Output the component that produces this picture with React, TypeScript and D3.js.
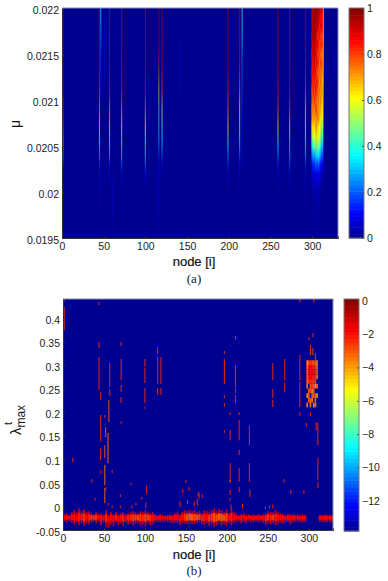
import React, { useEffect, useRef } from "react";
import * as d3 from "d3";

// panel (a): value along each node stripe, sampled at muLevels (bottom to top)
const muLevels = [0.0195, 0.02, 0.0202, 0.0203, 0.0204, 0.0205, 0.0206, 0.0207, 0.0209, 0.0211, 0.0214, 0.0217, 0.022];
const stripeNodes = [1, 45, 46.5, 57, 71.5, 100, 116, 120, 199, 213, 216, 259, 273, 292, 313.5, 51, 61, 142, 326, 115];
const stripeValues = [
  [0, 0, 0.05, 0.2, 0.4, 0.5, 0.6, 0.7, 0.8, 0.88, 0.95, 0.95, 0.95],
  [0, 0.04, 0.08, 0.15, 0.28, 0.38, 0.5, 0.62, 0.7, 0.82, 0.92, 0.95, 0.92],
  [0, 0, 0, 0, 0, 0, 0, 0, 0, 0.1, 0.14, 0.25, 0.38],
  [0, 0.02, 0.06, 0.14, 0.28, 0.36, 0.45, 0.58, 0.72, 0.86, 0.95, 0.95, 0.95],
  [0, 0.02, 0.08, 0.2, 0.32, 0.42, 0.52, 0.6, 0.72, 0.85, 0.92, 0.95, 0.95],
  [0, 0.02, 0.1, 0.22, 0.33, 0.42, 0.5, 0.6, 0.75, 0.88, 0.95, 0.95, 0.95],
  [0, 0.03, 0.05, 0.1, 0.18, 0.28, 0.34, 0.4, 0.45, 0.6, 0.85, 0.95, 0.95],
  [0, 0, 0.03, 0.1, 0.2, 0.3, 0.36, 0.42, 0.55, 0.8, 0.92, 0.95, 0.95],
  [0, 0.02, 0.07, 0.16, 0.26, 0.38, 0.5, 0.62, 0.75, 0.85, 0.95, 0.95, 0.95],
  [0, 0.02, 0.05, 0.1, 0.2, 0.32, 0.4, 0.5, 0.62, 0.75, 0.88, 0.95, 0.95],
  [0, 0, 0, 0.03, 0.06, 0.08, 0.1, 0.12, 0.14, 0.18, 0.22, 0.34, 0.44],
  [0, 0.02, 0.06, 0.14, 0.26, 0.36, 0.48, 0.62, 0.78, 0.88, 0.95, 0.95, 0.95],
  [0, 0.02, 0.08, 0.2, 0.28, 0.32, 0.42, 0.58, 0.8, 0.92, 0.95, 0.95, 0.95],
  [0, 0.03, 0.08, 0.15, 0.3, 0.4, 0.5, 0.58, 0.65, 0.8, 0.92, 0.95, 0.95],
  [0, 0, 0.05, 0.1, 0.15, 0.2, 0.25, 0.3, 0.32, 0.38, 0.5, 0.58, 0.65],
  [0, 0, 0, 0, 0, 0, 0, 0, 0, 0, 0.06, 0.08, 0.02],
  [0, 0.08, 0.02, 0, 0, 0, 0, 0, 0, 0, 0, 0, 0],
  [0, 0, 0, 0, 0, 0, 0, 0, 0, 0.03, 0.07, 0.02, 0],
  [0, 0, 0, 0, 0, 0, 0, 0, 0, 0.03, 0.08, 0.02, 0],
  [0, 0.07, 0.05, 0, 0, 0, 0, 0, 0, 0, 0, 0, 0],
];
// the hot block near node 305 has more texture, so it gets a finer mu grid
const hotLevels = [
  0.0195, 0.02, 0.0202, 0.0203, 0.0204, 0.0205, 0.0206, 0.0207, 0.0208, 0.0209, 0.021,
  0.0211, 0.0212, 0.0213, 0.0214, 0.0215, 0.0216, 0.0217, 0.0218, 0.0219, 0.022,
];
const hotNodes = [300, 301.5, 303, 304.5, 306, 307.5, 309, 310.5, 312];
const hotValues = [
  [0, 0, 0.05, 0.12, 0.22, 0.36, 0.5, 0.62, 0.72, 0.7, 0.8, 0.76, 0.86, 0.82, 0.9, 0.84, 0.93, 0.88, 0.96, 0.9, 0.94],
  [0, 0.02, 0.08, 0.16, 0.28, 0.42, 0.58, 0.66, 0.7, 0.78, 0.74, 0.86, 0.8, 0.9, 0.84, 0.96, 0.9, 1, 0.92, 0.98, 0.94],
  [0, 0.02, 0.07, 0.14, 0.26, 0.46, 0.56, 0.62, 0.74, 0.72, 0.84, 0.78, 0.88, 0.84, 0.94, 0.88, 0.98, 0.92, 1, 0.94, 0.98],
  [0, 0.03, 0.1, 0.2, 0.32, 0.5, 0.6, 0.7, 0.68, 0.8, 0.76, 0.84, 0.8, 0.86, 0.82, 0.92, 0.86, 0.96, 0.9, 1, 0.96],
  [0, 0.02, 0.08, 0.18, 0.34, 0.48, 0.62, 0.66, 0.72, 0.76, 0.72, 0.8, 0.84, 0.78, 0.86, 0.82, 0.88, 0.84, 0.94, 0.9, 1],
  [0, 0.03, 0.1, 0.2, 0.34, 0.5, 0.58, 0.64, 0.74, 0.7, 0.78, 0.74, 0.8, 0.76, 0.84, 0.8, 0.86, 0.82, 0.9, 0.96, 0.94],
  [0, 0.02, 0.09, 0.16, 0.3, 0.44, 0.56, 0.6, 0.68, 0.72, 0.7, 0.76, 0.72, 0.78, 0.74, 0.82, 0.78, 0.86, 0.84, 0.9, 0.96],
  [0, 0, 0.06, 0.13, 0.26, 0.4, 0.5, 0.58, 0.62, 0.68, 0.72, 0.7, 0.76, 0.74, 0.8, 0.76, 0.82, 0.8, 0.88, 0.86, 0.92],
  [0, 0, 0.04, 0.1, 0.2, 0.3, 0.42, 0.5, 0.58, 0.62, 0.66, 0.7, 0.68, 0.72, 0.76, 0.72, 0.8, 0.78, 0.84, 0.82, 0.88],
];
const xTicks = [0, 50, 100, 150, 200, 250, 300];
const muTicks = [0.0195, 0.02, 0.0205, 0.021, 0.0215, 0.022];
const barTicksA = [0, 0.2, 0.4, 0.6, 0.8, 1];

// panel (b): [node, lambda low, lambda high, value]
const lambdaSegments: number[][] = [
  [1.5, 0.374, 0.423, -2.4], [1.5, 0.435, 0.44, -2.4], [44, 0.427, 0.434, -2.4], [44, 0.336, 0.349, -2.4], [44, 0.247, 0.317, -2.4],
  [46, 0.226, 0.243, -2.4], [57, 0.253, 0.304, -2.4], [57, 0.235, 0.248, -2.4], [71, 0.34, 0.349, -2.4], [71, 0.268, 0.313, -2.4],
  [71, 0.243, 0.258, -2.4], [71, 0.219, 0.232, -2.4], [71, 0.175, 0.181, -2.4], [100, 0.296, 0.313, -2.4], [100, 0.262, 0.294, -2.4],
  [100, 0.219, 0.251, -2.4], [100, 0.207, 0.211, -2.4], [115.5, 0.323, 0.338, -2.4], [115.5, 0.26, 0.317, -2.4], [115.5, 0.236, 0.251, -2.4],
  [119.5, 0.26, 0.317, -2.4], [119.5, 0.236, 0.251, -2.4], [46, 0.137, 0.194, -2.4], [51, 0.188, 0.194, -2.4], [52, 0.147, 0.168, -3],
  [56, 0.179, 0.226, -3], [55, 0.092, 0.156, -3.4], [51, 0.103, 0.13, -3], [51, 0.045, 0.088, -3.4], [46, 0.098, 0.124, -2.4],
  [46, 0.069, 0.077, -2.4], [60, 0.071, 0.077, -2.4], [12, 0.094, 0.103, -2.4], [35, 0.05, 0.058, -2.4], [83, 0.045, 0.05, -2.4],
  [52, 0.035, 0.041, -2.4], [51, 0.007, 0.039, -3.2], [39, 0.012, 0.018, -2.4], [55, 0.002, 0.008, -2.4], [70, 0.02, 0.026, -2.4],
  [102, 0.026, 0.045, -2.4], [96, 0.014, 0.02, -2.4], [101, -0.004, 0.008, -2.4], [70, -0.004, 0.002, -2.4], [60, -0.004, 0.002, -2.4],
  [89, 0.002, 0.008, -2.4], [84, -0.004, 0.002, -2.4], [150, 0.05, 0.056, -2.4], [154, 0.033, 0.041, -2.4], [146, 0.028, 0.037, -2.4],
  [152, 0.005, 0.014, -2.4], [143, -0.002, 0.012, -2.4], [165, 0.022, 0.03, -2.4], [160, 0, 0.01, -2.4], [166, 0.016, 0.03, -2.4],
  [170, 0.018, 0.026, -2.4], [164, 0.002, 0.016, -2.4], [204, 0.05, 0.056, -2.4], [204, 0.024, 0.035, -2.4], [204, 0.012, 0.018, -2.4],
  [228, 0.02, 0.035, -2.4], [278, 0.026, 0.035, -2.4], [294, 0.026, 0.035, -2.4], [205, -0.006, 0.004, -2.4], [219, -0.004, 0.006, -2.4],
  [247, -0.006, 0, -2.4], [252, -0.004, 0.002, -2.4], [256, -0.004, 0.004, -2.4], [197, 0.323, 0.33, -2.4], [197, 0.26, 0.313, -2.4],
  [197, 0.23, 0.236, -2.4], [197, 0.211, 0.219, -2.4], [197, 0.156, 0.162, -2.4], [204, 0.194, 0.2, -2.4], [204, 0.14, 0.162, -2.4],
  [204, 0.052, 0.092, -2.4], [210.5, 0.353, 0.361, -2.4], [210.5, 0.253, 0.3, -2.4], [210.5, 0.24, 0.251, -2.4], [210.5, 0.219, 0.236, -2.4],
  [215, 0.194, 0.2, -2.4], [215, 0.14, 0.183, -2.4], [215, 0.109, 0.12, -2.4], [215, 0.052, 0.081, -2.4], [215, 0.03, 0.041, -2.4],
  [227.5, 0.13, 0.171, -2.4], [227.5, 0.052, 0.092, -2.4], [256, 0.268, 0.304, -2.4], [256, 0.23, 0.249, -2.4], [256, 0.211, 0.226, -2.4],
  [270.6, 0.268, 0.313, -2.4], [270.6, 0.243, 0.262, -2.4], [269.5, 0.05, 0.058, -2.4], [289, 0.268, 0.321, -2.4], [289, 0.211, 0.264, -2.4],
  [289, 0.192, 0.2, -2.4], [289, 0.432, 0.44, -2.4], [306, 0.432, 0.44, -2.4], [297, 0.168, 0.177, -2.4], [302, 0.192, 0.2, -2.4],
  [309, 0.162, 0.179, -2.4], [311, 0.13, 0.177, -2.4], [311, 0.056, 0.103, -2.4], [311, 0.039, 0.052, -2.4], [305, 0.359, 0.368, -2.4],
  [300, 0.353, 0.359, -2.4], [302, 0.321, 0.342, -2.8], [305, 0.321, 0.336, -2.8], [308, 0.31, 0.325, -2.8],
];
const hotCellNodes = [298, 300, 302, 304, 306, 308, 310];
const hotCellLambdas = [0.215, 0.225, 0.235, 0.245, 0.255, 0.265, 0.275, 0.285, 0.295, 0.305];
const hotCellValues: (number | null)[][] = [
  [-3.5, null, -3.2, null, -3.4, -3.4, null],
  [null, -3.2, -3, -3.4, null, -3.2, null],
  [-3.6, -3, null, -2.8, -3.2, -3, -3.8],
  [null, -3.2, -2.8, -3.8, -2.8, null, null],
  [-3.4, null, -3, -2.6, -3, -3.6, -3.6],
  [-3.2, -2.6, -2.4, -2.6, -2.4, -2.8, null],
  [-3, -2.2, -2, -2, -2.2, -2.4, -3.4],
  [-3, -2, -1.9, -1.9, -2, -2.2, -3],
  [-3.2, -2.2, -2, -2, -2.2, -2.6, -3.2],
  [-3.6, -3, -2.6, -2.8, -3, -3, -3.6],
];

// low-lambda band, one entry every 3 nodes
const bandTop = [
  -0.016, -0.014, -0.018, -0.012, -0.008, -0.012, -0.004, -0.01, -0.006, -0.012,
  -0.01, -0.013, -0.016, -0.012, -0.015, -0.014, -0.017, -0.008, -0.018, -0.012,
  -0.016, -0.012, -0.017, -0.014, -0.012, -0.016, -0.014, -0.012, -0.01, -0.012,
  -0.014, -0.01, -0.012, -0.008, -0.012, -0.014, -0.012, -0.016, -0.018, -0.016,
  -0.018, -0.019, -0.018, -0.017, -0.018, -0.014, -0.012, -0.016, -0.012, -0.008,
  -0.01, -0.006, -0.01, -0.008, -0.012, -0.01, -0.014, -0.008, -0.01, -0.012,
  -0.008, -0.004, -0.01, -0.006, -0.008, -0.012, -0.006, -0.014, -0.004, -0.012,
  -0.016, -0.018, -0.016, -0.014, -0.018, -0.016, -0.018, -0.017, -0.018, -0.016,
  -0.018, -0.016, -0.014, -0.01, -0.012, -0.012, -0.008, -0.012, -0.014, -0.016,
  -0.018, -0.016, -0.017, -0.016, -0.018, -0.016, -0.018, -0.017, -0.018, -0.02,
  -0.02, -0.02, -0.02, -0.02, -0.018, -0.018, -0.017, -0.018, -0.017, -0.018,
];
const bandBottom = [
  -0.032, -0.034, -0.031, -0.035, -0.038, -0.034, -0.04, -0.036, -0.041, -0.036,
  -0.038, -0.034, -0.032, -0.036, -0.032, -0.04, -0.034, -0.044, -0.046, -0.038,
  -0.042, -0.034, -0.04, -0.036, -0.042, -0.034, -0.038, -0.036, -0.04, -0.037,
  -0.036, -0.04, -0.038, -0.042, -0.036, -0.04, -0.038, -0.034, -0.033, -0.034,
  -0.032, -0.032, -0.033, -0.034, -0.036, -0.034, -0.035, -0.04, -0.036, -0.037,
  -0.038, -0.036, -0.037, -0.038, -0.036, -0.034, -0.038, -0.04, -0.036, -0.042,
  -0.038, -0.044, -0.04, -0.036, -0.04, -0.038, -0.042, -0.036, -0.04, -0.036,
  -0.034, -0.032, -0.036, -0.033, -0.034, -0.032, -0.033, -0.034, -0.032, -0.034,
  -0.032, -0.036, -0.04, -0.036, -0.038, -0.036, -0.04, -0.036, -0.034, -0.036,
  -0.034, -0.033, -0.038, -0.034, -0.033, -0.032, -0.034, -0.033, -0.032, -0.03,
  -0.03, -0.03, -0.03, -0.03, -0.033, -0.033, -0.034, -0.033, -0.034, -0.033,
];
const bandPeak = [
  -1.6, -1.8, -1.7, -1.9, -1.9, -1.7, -2.1, -2.1, -2.4, -1.9,
  -2.1, -2.4, -2.6, -2.4, -1.9, -1.8, -1.7, -2.1, -1.6, -1.9,
  -1.8, -2.1, -1.7, -1.8, -2.1, -1.9, -2.1, -2.4, -2.4, -2.6,
  -2.6, -2.6, -2.4, -2.6, -2.6, -2.4, -1.9, -1.8, -1.7, -1.7,
  -1.6, -1.6, -1.6, -1.7, -1.6, -1.8, -1.8, -1.7, -1.9, -2.4,
  -2.8, -3, -3, -2.8, -2.8, -2.6, -2.1, -2.1, -1.9, -2.4,
  -2.4, -2.8, -2.8, -3, -3, -2.8, -2.6, -1.9, -2.1, -1.8,
  -1.7, -1.7, -1.8, -1.7, -1.8, -1.8, -1.9, -1.8, -1.9, -1.8,
  -1.8, -1.9, -2.1, -2.4, -2.1, -2.4, -2.1, -1.9, -1.9, -1.8,
  -1.7, -1.8, -1.7, -1.8, -1.7, -1.6, -1.7, -1.8, -1.6, -9,
  -9, -9, -9, -9, -1.9, -1.8, -1.9, -1.8, -1.9, -1.8,
];
const lambdaTicks = [-0.05, 0, 0.05, 0.1, 0.15, 0.2, 0.25, 0.3, 0.35, 0.4];
const barTicksB = [-12, -10, -8, -6, -4, -2, 0];

const jet = d3
  .scaleLinear<string>()
  .domain([0, 0.11, 0.36, 0.61, 0.86, 1])
  .range(["#00008f", "#0000ff", "#00ffff", "#ffff00", "#ff0000", "#800000"])
  .clamp(true);

const SANS = "'Liberation Sans', Arial, sans-serif";

const App = () => {
  const svgRef = useRef<SVGSVGElement | null>(null);

  useEffect(() => {
    const svg = d3.select(svgRef.current);
    svg.selectAll("*").remove();
    const defs = svg.append("defs");

    const addBlur = (id: string, dev: string) => {
      defs.append("filter")
        .attr("id", id)
        .attr("x", "-5%").attr("y", "-5%").attr("width", "110%").attr("height", "110%")
        .append("feGaussianBlur")
        .attr("stdDeviation", dev);
    };
    addBlur("soft", "0.5 0.4");
    addBlur("softBand", "0.75 0.7");

    const drawFrame = (
      g: any,
      x: any,
      y: any,
      yTicks: number[],
      box: { left: number; right: number; top: number; bottom: number },
      yFormat: (d: any) => string
    ) => {
      const xAxis = g
        .append("g")
        .attr("transform", `translate(0,${box.bottom})`)
        .call(d3.axisBottom(x).tickValues(xTicks).tickSize(-2).tickPadding(5).tickFormat(d3.format("d") as any));
      const yAxis = g
        .append("g")
        .attr("transform", `translate(${box.left},0)`)
        .call(d3.axisLeft(y).tickValues(yTicks).tickSize(-2).tickPadding(3).tickFormat(yFormat as any));
      [xAxis, yAxis].forEach((a) => {
        a.selectAll("text").style("font-family", SANS).style("font-size", "10.5px").attr("fill", "#222");
        a.selectAll("line").attr("stroke", "#333");
        a.select(".domain").attr("stroke", "#333").attr("stroke-width", 1);
      });
      yAxis.selectAll("text").attr("dy", "0.5em");
      g.append("line")
        .attr("x1", box.left).attr("x2", box.right)
        .attr("y1", box.top).attr("y2", box.top)
        .attr("stroke", "#8a8fa8");
      g.append("line")
        .attr("x1", box.right).attr("x2", box.right)
        .attr("y1", box.top).attr("y2", box.bottom)
        .attr("stroke", "#8a8fa8");
    };

    const drawColorbar = (
      g: any,
      box: { left: number; right: number; top: number; bottom: number },
      domain: [number, number],
      ticks: number[],
      color: (v: number) => string
    ) => {
      const scale = d3.scaleLinear().domain(domain).range([box.bottom, box.top]);
      const levels = d3.range(64);
      const band = d3.scaleBand<number>().domain(levels).range([box.bottom, box.top]);
      g.selectAll(".level")
        .data(levels)
        .enter()
        .append("rect")
        .attr("x", box.left)
        .attr("y", (d: number) => band(d))
        .attr("width", box.right - box.left)
        .attr("height", band.bandwidth() + 0.5)
        .attr("fill", (d: number) => color(domain[0] + ((domain[1] - domain[0]) * (d + 0.5)) / 64));
      g.append("rect")
        .attr("x", box.left).attr("y", box.top)
        .attr("width", box.right - box.left).attr("height", box.bottom - box.top)
        .attr("fill", "none").attr("stroke", "#777");
      const axis = g
        .append("g")
        .attr("transform", `translate(${box.right},0)`)
        .call(d3.axisRight(scale).tickValues(ticks).tickSize(-2).tickPadding(3).tickFormat(d3.format("") as any));
      axis.select(".domain").remove();
      axis.selectAll("line").attr("stroke", "#555");
      axis.selectAll("text").style("font-family", SANS).style("font-size", "10.5px").attr("fill", "#222");
    };

    const addLabels = (g: any, caption: string, nodeY: number, captionY: number) => {
      g.append("text")
        .attr("x", 194).attr("y", nodeY)
        .attr("text-anchor", "middle")
        .style("font-family", SANS).style("font-size", "13px")
        .attr("fill", "#111").attr("stroke", "#111").attr("stroke-width", 0.2)
        .text("node [i]");
      g.append("text")
        .attr("x", 194).attr("y", captionY)
        .attr("text-anchor", "middle")
        .style("font-family", "'Liberation Serif', serif").style("font-size", "13px")
        .attr("fill", "#222")
        .text(caption);
    };

    // panel (a)
    const boxA = { left: 62, right: 338, top: 8, bottom: 238 };
    const xA = d3.scaleLinear().domain([0, 331]).range([boxA.left, boxA.right]);
    const yA = d3.scaleLinear().domain([0.0195, 0.022]).range([boxA.bottom, boxA.top]);
    const topG = svg.append("g");
    defs.append("clipPath").attr("id", "clipA").append("rect")
      .attr("x", boxA.left).attr("y", boxA.top)
      .attr("width", boxA.right - boxA.left).attr("height", boxA.bottom - boxA.top);
    topG.append("rect")
      .attr("x", boxA.left).attr("y", boxA.top)
      .attr("width", boxA.right - boxA.left).attr("height", boxA.bottom - boxA.top)
      .attr("fill", jet(0));

    const columns = [
      ...stripeNodes.map((node, i) => ({ node, values: stripeValues[i], levels: muLevels, wide: 1.4, alpha: 0.62 })),
      ...hotNodes.map((node, i) => ({ node, values: hotValues[i], levels: hotLevels, wide: 1.9, alpha: 1 })),
    ];
    columns.forEach((c, i) => {
      const grad = defs.append("linearGradient")
        .attr("id", `col${i}`)
        .attr("gradientUnits", "userSpaceOnUse")
        .attr("x1", 0).attr("x2", 0)
        .attr("y1", boxA.bottom).attr("y2", boxA.top);
      c.levels.forEach((m, k) => {
        grad.append("stop")
          .attr("offset", (m - 0.0195) / (0.022 - 0.0195))
          .attr("stop-color", jet(c.values[k]));
      });
    });
    topG.append("g")
      .attr("clip-path", "url(#clipA)")
      .append("g")
      .attr("filter", "url(#soft)")
      .selectAll("rect")
      .data(columns)
      .enter()
      .append("rect")
      .attr("x", (d) => xA(d.node - d.wide / 2))
      .attr("y", boxA.top - 4)
      .attr("width", (d) => xA(d.wide) - xA(0))
      .attr("height", boxA.bottom - boxA.top + 4)
      .attr("fill", (_, i) => `url(#col${i})`)
      .attr("fill-opacity", (d) => d.alpha);

    drawFrame(topG, xA, yA, muTicks, boxA, (d) => String(d));
    drawColorbar(topG, { left: 349, right: 364, top: 8, bottom: 238 }, [0, 1], barTicksA, (v) => jet(v));
    addLabels(topG, "(a)", 266, 283);
    topG.append("text")
      .attr("transform", "translate(20,124) rotate(-90)")
      .attr("text-anchor", "middle")
      .style("font-family", SANS).style("font-size", "14px")
      .attr("fill", "#111")
      .text("μ");

    // panel (b)
    const boxB = { left: 63, right: 333, top: 299, bottom: 530 };
    const xB = d3.scaleLinear().domain([0, 329.5]).range([boxB.left, boxB.right]);
    const yB = d3.scaleLinear().domain([-0.05, 0.44]).range([boxB.bottom, boxB.top]);
    const colorB = (v: number) => jet((v + 13.8) / 13.9);
    const botG = svg.append("g");
    defs.append("clipPath").attr("id", "clipB").append("rect")
      .attr("x", boxB.left).attr("y", boxB.top)
      .attr("width", boxB.right - boxB.left).attr("height", boxB.bottom - boxB.top);
    botG.append("rect")
      .attr("x", boxB.left).attr("y", boxB.top)
      .attr("width", boxB.right - boxB.left).attr("height", boxB.bottom - boxB.top)
      .attr("fill", jet(0));
    const clipped = botG.append("g").attr("clip-path", "url(#clipB)");
    const marks = clipped.append("g").attr("filter", "url(#soft)");

    marks.selectAll(".seg")
      .data(lambdaSegments)
      .enter()
      .append("rect")
      .attr("x", (d) => xB(d[0] - 0.7))
      .attr("y", (d) => yB(d[2]))
      .attr("width", xB(1.4) - xB(0))
      .attr("height", (d) => yB(d[1]) - yB(d[2]))
      .attr("fill", (d) => colorB(d[3]))
      .attr("fill-opacity", 0.8);

    const hotCells = hotCellLambdas.flatMap((l, r) =>
      hotCellNodes.map((n, c) => ({ n, l, v: hotCellValues[r][c] }))
    ).filter((d) => d.v !== null);
    marks.selectAll(".hot")
      .data(hotCells)
      .enter()
      .append("rect")
      .attr("x", (d) => xB(d.n - 1))
      .attr("y", (d) => yB(d.l + 0.005))
      .attr("width", xB(2) - xB(0))
      .attr("height", yB(0) - yB(0.01))
      .attr("fill", (d) => colorB(d.v as number));

    const bandIdx = d3.range(bandTop.length).filter((i) => bandPeak[i] > -8);
    const bandMarks = clipped.append("g").attr("filter", "url(#softBand)");
    bandMarks.selectAll(".band")
      .data(bandIdx)
      .enter()
      .append("rect")
      .attr("x", (i) => xB(3 * i + 0.4))
      .attr("y", (i) => yB(bandTop[i]))
      .attr("width", xB(2.2) - xB(0))
      .attr("height", (i) => yB(bandBottom[i]) - yB(bandTop[i]))
      .attr("fill", colorB(-1.6))
      .attr("fill-opacity", 0.75);
    // the brighter core sits halfway between the band's edge and its centre
    const coreHigh = (i: number) => (bandTop[i] - 0.023) / 2;
    const coreLow = (i: number) => (bandBottom[i] - 0.023) / 2;
    bandMarks.selectAll(".core")
      .data(bandIdx)
      .enter()
      .append("rect")
      .attr("x", (i) => xB(3 * i))
      .attr("y", (i) => yB(coreHigh(i)))
      .attr("width", xB(3) - xB(0))
      .attr("height", (i) => yB(coreLow(i)) - yB(coreHigh(i)))
      .attr("fill", (i) => colorB(bandPeak[i]));

    drawFrame(botG, xB, yB, lambdaTicks, boxB, (d) => String(d));
    drawColorbar(botG, { left: 344, right: 359, top: 299, bottom: 531 }, [-13.8, 0.1], barTicksB, colorB);
    addLabels(botG, "(b)", 559, 575);
    const yLabel = botG.append("text")
      .attr("transform", "translate(21,420) rotate(-90)")
      .attr("text-anchor", "middle")
      .style("font-family", SANS).style("font-size", "15px")
      .attr("fill", "#111");
    yLabel.append("tspan").text("λ");
    yLabel.append("tspan").attr("dy", 4).style("font-size", "12px").text("max");
    botG.append("text")
      .attr("transform", "translate(12,425) rotate(-90)")
      .style("font-family", SANS).style("font-size", "11px")
      .attr("fill", "#111")
      .text("t");
  }, []);

  return (
    <svg
      ref={svgRef}
      width={388}
      height={581}
      style={{ position: "absolute", left: 0, top: 0, background: "#fff" }}
    />
  );
};

export default App;
